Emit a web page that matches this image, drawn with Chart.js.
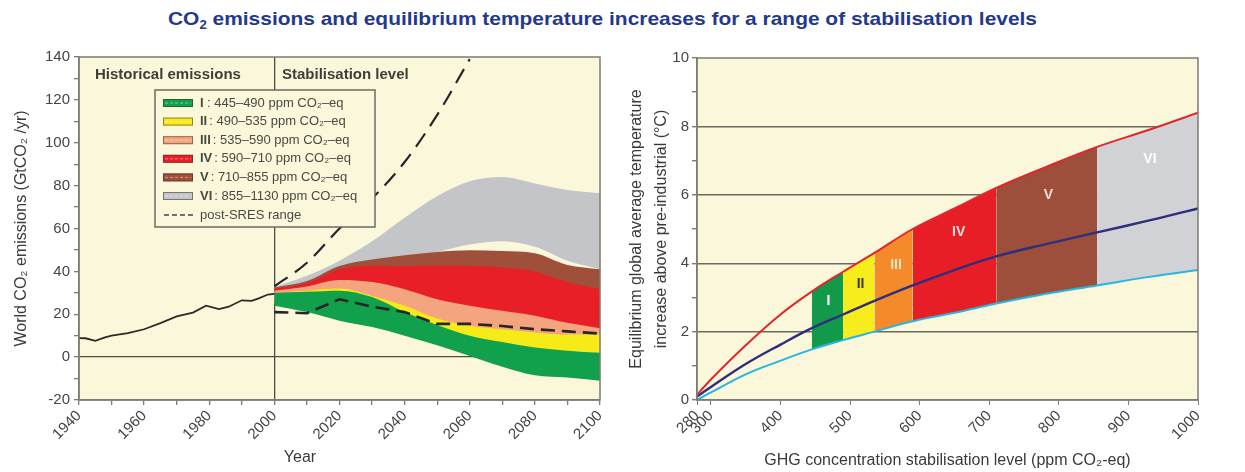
<!DOCTYPE html>
<html>
<head>
<meta charset="utf-8">
<script src="https://cdn.jsdelivr.net/npm/chart.js@4.4.0/dist/chart.umd.min.js"></script>
<style>
  html, body { margin: 0; padding: 0; background: #fff; }
  #page { position: relative; width: 1245px; height: 472px; overflow: hidden; }
  #title { position: absolute; top: 8px; left: 168px; white-space: nowrap; transform-origin: 0 0;
           font: bold 19px 'Liberation Sans Narrow', 'Liberation Sans', sans-serif; line-height: 22px; color: #24388f; }
  #title sub { font-size: 12px; line-height: 0; vertical-align: -4px; }
  .box { position: absolute; top: 0; height: 472px; }
  #left { left: 0; width: 620px; }
  #right { left: 620px; width: 625px; }
</style>
</head>
<body>
<div id="page">
  <div id="title">CO<sub>2</sub> emissions and equilibrium temperature increases for a range of stabilisation levels</div>
  <div class="box" id="left"><canvas id="emissions"></canvas></div>
  <div class="box" id="right"><canvas id="temperature"></canvas></div>
</div>
<script>
// ---- left panel: world CO2 emissions (GtCO2/yr)
const histYears = [1940, 1942, 1945, 1948, 1950, 1955, 1960, 1965, 1970, 1975, 1979, 1983, 1986, 1990, 1993, 1995, 1998, 2000];
const histCO2 = [8.9, 8.8, 7.6, 9.2, 10, 11.2, 13, 15.9, 19, 20.8, 24, 22.4, 23.5, 26.5, 26.2, 27.3, 29.2, 29.5];

const futureYears = [2000, 2010, 2020, 2030, 2040, 2050, 2060, 2070, 2080, 2090, 2100];
const catI_hi   = [30, 30.5, 31, 28, 21, 15, 10, 7, 4.5, 3, 2];
const catI_lo   = [24, 21, 17, 14, 10, 5.5, 0.5, -4.5, -8.5, -9.5, -11];
const catII_hi  = [30, 31, 32, 28.5, 24, 18, 14.6, 13, 11.5, 10.5, 10.5];
const catII_lo  = [25, 23, 22, 18, 13, 10, 7, 5, 3.5, 2.5, 1.5];
const catIII_hi = [31, 33, 36, 35, 31.7, 27, 24, 21.6, 19.3, 16, 13.5];
const catIII_lo = [27, 27, 26, 22, 18, 14, 12, 11, 10, 9.5, 9];
const catIV_hi  = [32, 34.5, 41, 42.6, 42.5, 42.6, 42.6, 41.8, 40, 35, 31.7];
const catIV_lo  = [29, 29, 30, 28, 25, 21, 19, 17, 15, 13.5, 12.5];
const catV_hi   = [32.5, 35.5, 42.5, 45.5, 47.5, 49, 49.8, 49.5, 48.5, 43, 41];
const catV_lo   = [30, 31, 34, 36, 36, 35, 34, 32, 30, 27, 25];
const catVI_hi  = [33, 38, 45, 54, 65, 75, 82, 84, 81, 78, 76.5];
const catVI_lo  = [31, 33, 38, 42, 46, 49, 52.5, 54, 51.5, 45, 41];

const sresHighYears = [2000, 2010, 2020, 2030, 2040, 2050, 2060];
const sresHigh = [33, 44, 60, 74, 91, 113, 139];
const sresLow = [21, 20.5, 27, 23.5, 21, 15.5, 15.5, 14.5, 13, 12, 11];

const catNames = ['I', 'II', 'III', 'IV', 'V', 'VI'];
const catRanges = ['445–490', '490–535', '535–590', '590–710', '710–855', '855–1130'];
const yearTicks = [1940, 1960, 1980, 2000, 2020, 2040, 2060, 2080, 2100];
const co2Ticks = [-20, 0, 20, 40, 60, 80, 100, 120, 140];

// ---- right panel: equilibrium warming vs stabilisation level
const ppm   = [280, 300, 350, 400, 445, 490, 535, 590, 650, 710, 780, 855, 930, 1000];
const tHigh = [0.15, 0.6, 1.6, 2.5, 3.17, 3.75, 4.3, 5.0, 5.6, 6.2, 6.8, 7.4, 7.9, 8.4];
const tBest = [0.1, 0.38, 1.05, 1.62, 2.1, 2.5, 2.9, 3.35, 3.8, 4.2, 4.55, 4.9, 5.25, 5.6];
const tLow  = [0, 0.22, 0.75, 1.15, 1.48, 1.75, 2.0, 2.3, 2.55, 2.82, 3.1, 3.35, 3.6, 3.8];
const catEdges = [445, 490, 535, 590, 710, 855, 1000];
const catLabelPpm = [469, 515, 566, 656, 785, 931];
const catLabelTemp = [2.9, 3.4, 3.95, 4.9, 6.0, 7.05];
const ppmTicks = [280, 300, 400, 500, 600, 700, 800, 900, 1000];

const leftColors  = ['#11a04c', '#f6ea18', '#f4a47e', '#e81f26', '#a04f3a', '#c3c5c9'];
const rightColors = ['#12994a', '#f7ec1c', '#f58a2a', '#e81e27', '#9e4f3b', '#d1d2d6'];
const labelColors = ['#ffffff', '#3b3a22', '#fde4c4', '#fde3dc', '#f6e3d2', '#ffffff'];

const PLOT_BG = '#fbf7db';
const FRAME = '#7d7c70';
Chart.defaults.font.family = "'Liberation Sans', Arial, sans-serif";
Chart.defaults.color = '#454545';

const pts = (xs, ys) => xs.map((x, i) => ({ x: x, y: ys[i] }));

const plotFrame = {
  id: 'plotFrame',
  beforeDraw(chart) {
    const { ctx, chartArea: a } = chart;
    ctx.save();
    ctx.fillStyle = PLOT_BG;
    ctx.fillRect(a.left, a.top, a.right - a.left, a.bottom - a.top);
    ctx.restore();
  },
  afterDatasetsDraw(chart) {
    const { ctx, chartArea: a } = chart;
    ctx.save();
    ctx.strokeStyle = FRAME;
    ctx.lineWidth = 1.5;
    ctx.strokeRect(a.left, a.top, a.right - a.left, a.bottom - a.top);
    ctx.restore();
  }
};

function bandSets(hi, lo, color, order) {
  return [
    { data: pts(futureYears, hi), fill: '+1', backgroundColor: color, borderColor: 'transparent',
      borderWidth: 0, pointRadius: 0, cubicInterpolationMode: 'monotone', order: order },
    { data: pts(futureYears, lo), fill: false, borderColor: 'transparent',
      borderWidth: 0, pointRadius: 0, cubicInterpolationMode: 'monotone', order: order }
  ];
}

const emissionsText = {
  id: 'emissionsText',
  afterDraw(chart) {
    const { ctx, chartArea: a } = chart;
    ctx.save();
    ctx.fillStyle = '#3f3f3a';
    ctx.textBaseline = 'middle';
    ctx.font = "bold 15px 'Liberation Sans Narrow', 'Liberation Sans', sans-serif";
    ctx.fillText('Historical emissions', a.left + 16, a.top + 18);
    ctx.fillText('Stabilisation level', a.left + 203, a.top + 18);

    // legend box
    const x0 = a.left + 76, y0 = a.top + 33, w = 220, h = 137;
    ctx.fillStyle = PLOT_BG;
    ctx.fillRect(x0, y0, w, h);
    ctx.strokeStyle = '#6c6b62';
    ctx.lineWidth = 1.5;
    ctx.strokeRect(x0, y0, w, h);
    catNames.forEach((n, i) => {
      const cy = y0 + 13 + i * 18.6;
      ctx.fillStyle = leftColors[i];
      ctx.fillRect(x0 + 8, cy - 4, 30, 8);
      ctx.strokeStyle = 'rgba(60,50,40,0.55)';
      ctx.lineWidth = 1;
      ctx.strokeRect(x0 + 8.5, cy - 3.5, 29, 7);
      ctx.strokeStyle = 'rgba(255,255,255,0.45)';
      ctx.setLineDash([3, 2]);
      ctx.beginPath(); ctx.moveTo(x0 + 10, cy); ctx.lineTo(x0 + 36, cy); ctx.stroke();
      ctx.setLineDash([]);
      ctx.fillStyle = '#4a4a44';
      ctx.font = "bold 13px 'Liberation Sans Narrow', 'Liberation Sans', sans-serif";
      ctx.fillText(n, x0 + 45, cy);
      const nw = ctx.measureText(n).width;
      ctx.font = "13px 'Liberation Sans Narrow', 'Liberation Sans', sans-serif";
      ctx.fillText(': ' + catRanges[i] + ' ppm CO₂–eq', Math.max(x0 + 45 + nw + 2, x0 + 52), cy);
    });
    const dy = y0 + 125;
    ctx.strokeStyle = '#444';
    ctx.lineWidth = 1.3;
    ctx.setLineDash([5, 3]);
    ctx.beginPath(); ctx.moveTo(x0 + 9, dy); ctx.lineTo(x0 + 38, dy); ctx.stroke();
    ctx.setLineDash([]);
    ctx.fillStyle = '#4a4a44';
    ctx.fillText('post-SRES range', x0 + 45, dy);

    // x axis title
    ctx.font = "16px 'Liberation Sans', Arial, sans-serif";
    ctx.fillStyle = '#3a3a3a';
    ctx.textAlign = 'center';
    ctx.fillText('Year', a.left + 221, 458);
    ctx.restore();
  }
};

new Chart(document.getElementById('emissions'), {
  type: 'line',
  data: {
    datasets: [
      { data: pts(histYears, histCO2), borderColor: '#2a2a26', borderWidth: 1.8, pointRadius: 0, fill: false, order: 0 },
      { data: pts(sresHighYears, sresHigh), borderColor: '#262626', borderWidth: 2.2, borderDash: [16, 9],
        pointRadius: 0, fill: false, cubicInterpolationMode: 'monotone', order: 0 },
      { data: pts(futureYears, sresLow), borderColor: '#262626', borderWidth: 2.6, borderDash: [14, 7],
        pointRadius: 0, fill: false, order: 0 },
      ...bandSets(catI_hi, catI_lo, leftColors[0], 1),
      ...bandSets(catII_hi, catII_lo, leftColors[1], 2),
      ...bandSets(catIII_hi, catIII_lo, leftColors[2], 3),
      ...bandSets(catIV_hi, catIV_lo, leftColors[3], 4),
      ...bandSets(catV_hi, catV_lo, leftColors[4], 5),
      ...bandSets(catVI_hi, catVI_lo, leftColors[5], 6)
    ]
  },
  options: {
    responsive: true,
    maintainAspectRatio: false,
    animation: false,
    layout: { padding: { top: 57, right: 20, left: 0, bottom: 0 } },
    plugins: { legend: { display: false }, tooltip: { enabled: false } },
    scales: {
      x: {
        type: 'linear', min: 1940, max: 2100,
        afterFit(s) { s.height = 72; s.paddingLeft = 0; s.paddingRight = 0; },
        afterBuildTicks(s) {
          const t = [];
          for (let v = 1940; v <= 2100; v += 10) t.push({ value: v });
          s.ticks = t;
        },
        ticks: {
          autoSkip: false, minRotation: 45, maxRotation: 45, padding: 2,
          font: { size: 15 }, color: '#454545',
          callback: v => yearTicks.includes(v) ? String(v) : ''
        },
        grid: {
          color: c => c.tick && c.tick.value === 2000 ? '#4d4d46' : 'rgba(0,0,0,0)',
          lineWidth: 1.3, tickColor: '#7d7c70', tickLength: 5
        },
        border: { display: true, color: FRAME, width: 1.5 }
      },
      y: {
        min: -20, max: 140,
        afterFit(s) { s.width = 79; },
        afterBuildTicks(s) {
          const t = [];
          for (let v = -20; v <= 140; v += 10) t.push({ value: v });
          s.ticks = t;
        },
        ticks: {
          autoSkip: false, padding: 4, font: { size: 15 }, color: '#454545',
          callback: v => co2Ticks.includes(v) ? String(v) : ''
        },
        grid: {
          color: c => c.tick && c.tick.value === 0 ? '#4d4d46' : 'rgba(0,0,0,0)',
          lineWidth: 1.3, tickColor: '#7d7c70', tickLength: 5
        },
        border: { display: true, color: FRAME, width: 1.5 },
        title: { display: true, text: 'World CO₂ emissions (GtCO₂ /yr)', font: { size: 16 }, color: '#3a3a3a',
                 padding: { top: 12, bottom: 0 } }
      }
    }
  },
  plugins: [plotFrame, emissionsText]
});

// ---- right panel
function catBand(i) {
  const lo = catEdges[i], hi = catEdges[i + 1];
  const xs = [], up = [], dn = [];
  ppm.forEach((p, k) => {
    if (p >= lo && p <= hi) { xs.push(p); up.push(tHigh[k]); dn.push(tLow[k]); }
  });
  return [
    { data: pts(xs, up), fill: '+1', backgroundColor: rightColors[i], borderColor: 'transparent',
      borderWidth: 0, pointRadius: 0, order: 1 },
    { data: pts(xs, dn), fill: false, borderColor: 'transparent', borderWidth: 0, pointRadius: 0, order: 1 }
  ];
}

const catLabels = {
  id: 'catLabels',
  afterDatasetsDraw(chart) {
    const { ctx, scales: { x, y } } = chart;
    ctx.save();
    ctx.font = "bold 14px 'Liberation Sans', Arial, sans-serif";
    ctx.textAlign = 'center';
    ctx.textBaseline = 'middle';
    catNames.forEach((n, i) => {
      ctx.fillStyle = labelColors[i];
      ctx.fillText(n, x.getPixelForValue(catLabelPpm[i]), y.getPixelForValue(catLabelTemp[i]));
    });
    ctx.restore();
  }
};

const catSets = [];
for (let i = 0; i < catNames.length; i++) catSets.push(...catBand(i));

new Chart(document.getElementById('temperature'), {
  type: 'line',
  data: {
    datasets: [
      { data: pts(ppm, tHigh), borderColor: '#e0262d', borderWidth: 2, pointRadius: 0, fill: false,
        tension: 0.4, order: 0 },
      { data: pts(ppm, tBest), borderColor: '#2e2f7c', borderWidth: 2.4, pointRadius: 0, fill: false,
        tension: 0.4, order: 0 },
      { data: pts(ppm, tLow), borderColor: '#27b5e0', borderWidth: 2, pointRadius: 0, fill: false,
        tension: 0.4, order: 0 },
      ...catSets
    ]
  },
  options: {
    responsive: true,
    maintainAspectRatio: false,
    animation: false,
    layout: { padding: { top: 58, right: 47, left: 0, bottom: 0 } },
    plugins: { legend: { display: false }, tooltip: { enabled: false } },
    scales: {
      x: {
        type: 'linear', min: 280, max: 1000,
        afterFit(s) { s.height = 72; s.paddingLeft = 0; s.paddingRight = 0; },
        afterBuildTicks(s) { s.ticks = ppmTicks.map(v => ({ value: v })); },
        ticks: { autoSkip: false, minRotation: 45, maxRotation: 45, padding: 2, font: { size: 15 }, color: '#454545',
                 callback: v => String(v) },
        grid: { color: 'rgba(0,0,0,0)', tickColor: '#7d7c70', tickLength: 5 },
        border: { display: true, color: FRAME, width: 1.5 },
        title: { display: true, text: 'GHG concentration stabilisation level (ppm CO₂-eq)', font: { size: 16 },
                 color: '#3a3a3a', padding: { top: 0, bottom: 2 } }
      },
      y: {
        min: 0, max: 10,
        afterFit(s) { s.width = 77; },
        afterBuildTicks(s) {
          const t = [];
          for (let v = 0; v <= 10; v += 1) t.push({ value: v });
          s.ticks = t;
        },
        ticks: { autoSkip: false, padding: 3, font: { size: 15 }, color: '#454545',
                 callback: v => v % 2 === 0 ? String(v) : '' },
        grid: {
          color: c => c.tick && [2, 4, 6, 8].includes(c.tick.value) ? '#6b6a5e' : 'rgba(0,0,0,0)',
          lineWidth: 1.4, tickColor: '#7d7c70', tickLength: 5
        },
        border: { display: true, color: FRAME, width: 1.5 },
        title: { display: true, text: ['Equilibrium global average temperature', 'increase above pre-industrial (°C)'],
                 font: { size: 16, lineHeight: 1.55 }, color: '#3a3a3a', padding: { top: 4, bottom: 0 } }
      }
    }
  },
  plugins: [plotFrame, catLabels]
});

// stretch the title to the width it has in the figure
const title = document.getElementById('title');
title.style.transform = 'scaleX(' + (869 / title.getBoundingClientRect().width) + ')';
</script>
</body>
</html>
